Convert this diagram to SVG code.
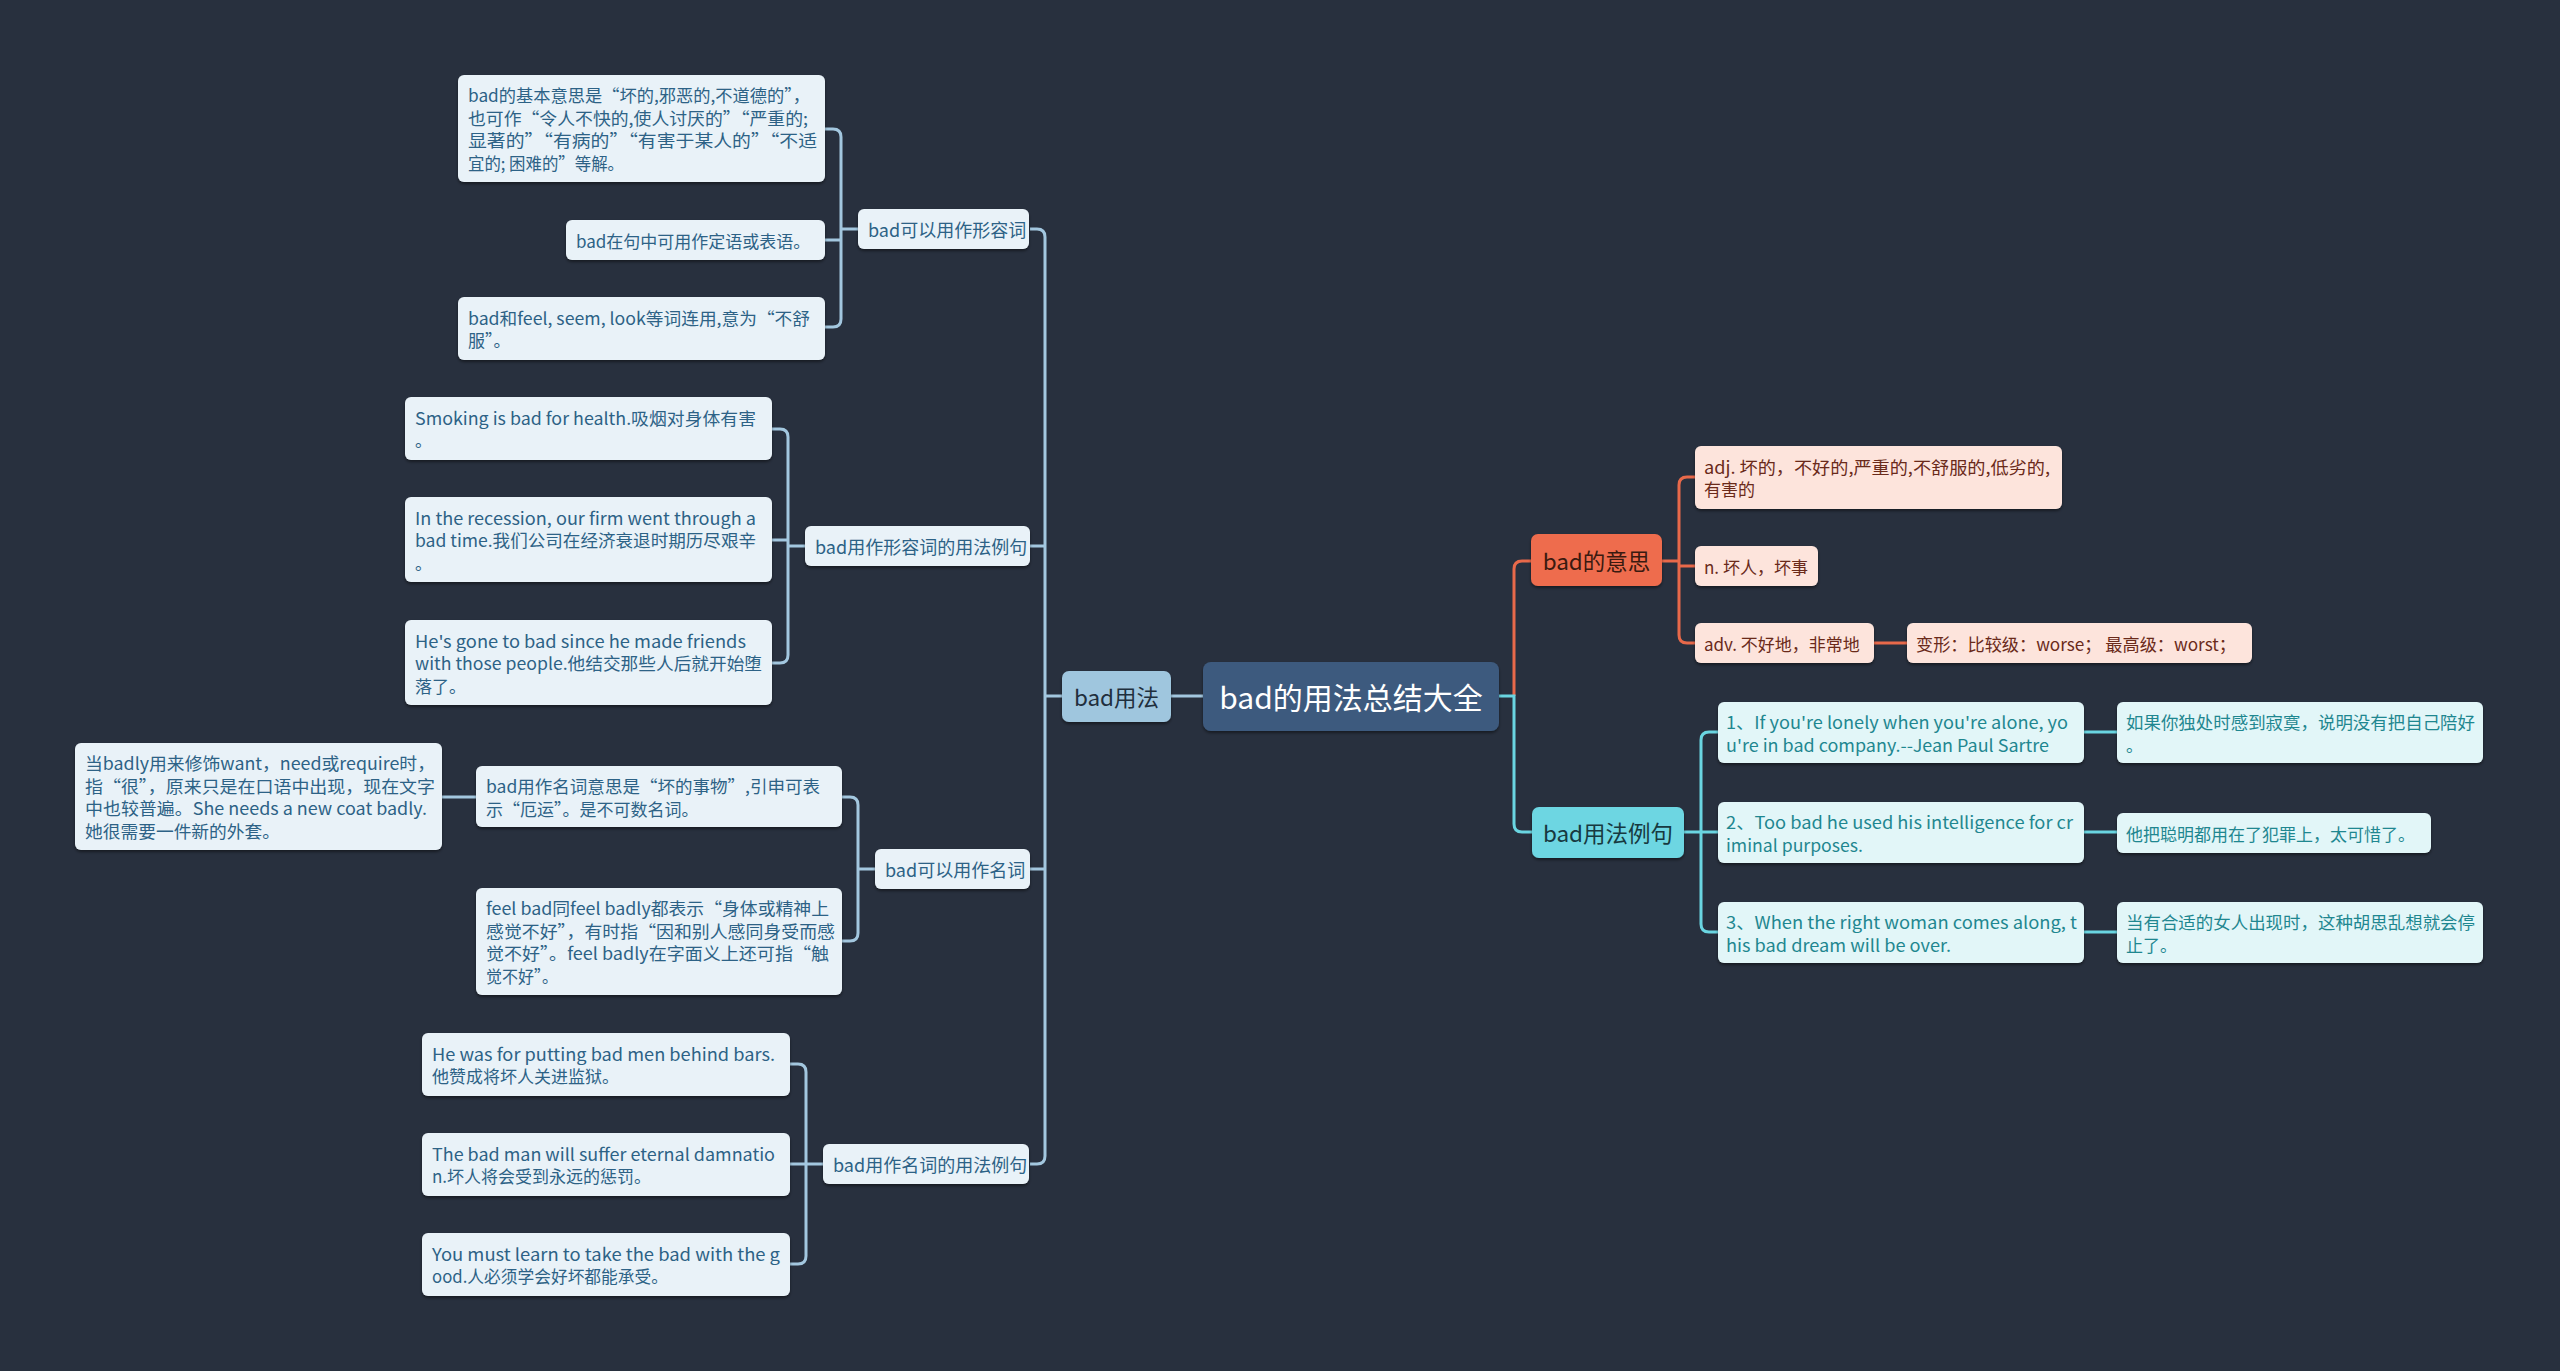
<svg xmlns="http://www.w3.org/2000/svg" width="2560" height="1371" viewBox="0 0 2560 1371">
<defs>
<filter id="sh" x="-5%" y="-10%" width="110%" height="130%"><feDropShadow dx="0" dy="2" stdDeviation="1.5" flood-color="#000" flood-opacity="0.45"/></filter>
<style>
text{font-family:"Noto Sans CJK SC","Noto Sans",sans-serif;dominant-baseline:central}
.cl{fill:none;stroke:#a3c7df;stroke-width:3}
.co{fill:none;stroke:#e8694a;stroke-width:3}
.cc{fill:none;stroke:#6ad5e1;stroke-width:3}
.nL rect{fill:#e9f2f8;filter:url(#sh)}
.nL text{fill:#2d6286;font-size:17px}
.nP rect{fill:#e9f2f8;filter:url(#sh)}
.nP text{fill:#2d6286;font-size:18px}
.n1 rect{fill:#9fc6de;filter:url(#sh)}
.n1 text{fill:#1f2f3d;font-size:22.5px}
.root rect{fill:#3e5a7e;filter:url(#sh)}
.root text{fill:#ffffff;font-size:30px}
.o1 rect{fill:#ee6c4d;filter:url(#sh)}
.o1 text{fill:#3a1a10;font-size:22.5px}
.oL rect{fill:#fde4dc;filter:url(#sh)}
.oL text{fill:#6a2a1a;font-size:17px}
.c1 rect{fill:#6dd6e2;filter:url(#sh)}
.c1 text{fill:#173940;font-size:22.5px}
.cL rect{fill:#e2f6f8;filter:url(#sh)}
.cL text{fill:#1f8790;font-size:17px}
</style>
</defs>
<rect width="2560" height="1371" fill="#28303e"/>
<g id="connectors">
<path class="cl" d="M1203,696 H1171"/>
<path class="cl" d="M1062,696 H1045"/>
<path class="cl" d="M1030,229 H1037 Q1045,229 1045,237 V1156 Q1045,1164 1037,1164 H1030 M1030,546 H1045 M1030,869 H1045"/>
<path class="cl" d="M858,229 H841 M825,129 H833 Q841,129 841,137 V319 Q841,327 833,327 H825 M825,240 H841"/>
<path class="cl" d="M805,546 H788 M772,429 H780 Q788,429 788,437 V655 Q788,663 780,663 H772 M772,540 H788"/>
<path class="cl" d="M875,869 H858 M842,797 H850 Q858,797 858,805 V933 Q858,941 850,941 H842"/>
<path class="cl" d="M476,797 H442"/>
<path class="cl" d="M823,1164 H806 M790,1064 H798 Q806,1064 806,1072 V1256 Q806,1264 798,1264 H790 M790,1164 H806"/>
<path class="co" d="M1514,696 V569 Q1514,561 1522,561 H1531"/>
<path class="co" d="M1662,561 H1679 M1695,477 H1687 Q1679,477 1679,485 V635 Q1679,643 1687,643 H1695 M1679,566 H1695"/>
<path class="co" d="M1874,643 H1907"/>
<path class="cc" d="M1499,696 H1514 V824 Q1514,832 1522,832 H1532"/>
<path class="cc" d="M1684,832 H1701 M1718,732 H1709 Q1701,732 1701,740 V924 Q1701,932 1709,932 H1718 M1701,832 H1718"/>
<path class="cc" d="M2084,732 H2117 M2084,832 H2117 M2084,932 H2117"/>
</g>
<g id="root" class="root"><rect x="1203" y="662" width="296" height="69" rx="8"/><text x="1351" y="696" text-anchor="middle">bad的用法总结大全</text></g>
<g id="usage" class="n1"><rect x="1062" y="671" width="109" height="51" rx="7"/><text x="1116.5" y="696" text-anchor="middle">bad用法</text></g>
<g id="p1" class="nP"><rect x="858" y="209" width="171" height="40" rx="6"/><text x="868" y="229">bad可以用作形容词</text></g>
<g id="p2" class="nP"><rect x="805" y="526" width="225" height="40" rx="6"/><text x="815" y="546">bad用作形容词的用法例句</text></g>
<g id="p3" class="nP"><rect x="875" y="849" width="155" height="40" rx="6"/><text x="885" y="869">bad可以用作名词</text></g>
<g id="p4" class="nP"><rect x="823" y="1144" width="206" height="40" rx="6"/><text x="833" y="1164">bad用作名词的用法例句</text></g>
<g id="a1" class="nL"><rect x="458" y="75" width="367" height="107" rx="6"/><text x="468" y="94.5" textLength="342" lengthAdjust="spacingAndGlyphs">bad的基本意思是“坏的,邪恶的,不道德的”，</text><text x="468" y="117.2" textLength="340" lengthAdjust="spacingAndGlyphs">也可作“令人不快的,使人讨厌的”“严重的;</text><text x="468" y="139.9" textLength="349" lengthAdjust="spacingAndGlyphs">显著的”“有病的”“有害于某人的”“不适</text><text x="468" y="162.6" textLength="156" lengthAdjust="spacingAndGlyphs">宜的; 困难的”等解。</text></g>
<g id="a2" class="nL"><rect x="566" y="220" width="259" height="40" rx="6"/><text x="576" y="240">bad在句中可用作定语或表语。</text></g>
<g id="a3" class="nL"><rect x="458" y="297" width="367" height="63" rx="6"/><text x="468" y="317" textLength="342" lengthAdjust="spacingAndGlyphs">bad和feel, seem, look等词连用,意为“不舒</text><text x="468" y="339.7">服”。</text></g>
<g id="b1" class="nL"><rect x="405" y="397" width="367" height="63" rx="6"/><text x="415" y="417" textLength="341" lengthAdjust="spacingAndGlyphs">Smoking is bad for health.吸烟对身体有害</text><text x="415" y="439.7">。</text></g>
<g id="b2" class="nL"><rect x="405" y="497" width="367" height="85" rx="6"/><text x="415" y="517" textLength="341" lengthAdjust="spacingAndGlyphs">In the recession, our firm went through a</text><text x="415" y="539.7" textLength="341" lengthAdjust="spacingAndGlyphs">bad time.我们公司在经济衰退时期历尽艰辛</text><text x="415" y="562.4">。</text></g>
<g id="b3" class="nL"><rect x="405" y="620" width="367" height="85" rx="6"/><text x="415" y="640" textLength="331" lengthAdjust="spacingAndGlyphs">He's gone to bad since he made friends</text><text x="415" y="662.7" textLength="347" lengthAdjust="spacingAndGlyphs">with those people.他结交那些人后就开始堕</text><text x="415" y="685.4">落了。</text></g>
<g id="c0" class="nL"><rect x="75" y="743" width="367" height="107" rx="6"/><text x="85" y="762.5" textLength="350" lengthAdjust="spacingAndGlyphs">当badly用来修饰want，need或require时，</text><text x="85" y="785.2" textLength="350" lengthAdjust="spacingAndGlyphs">指“很”，原来只是在口语中出现，现在文字</text><text x="85" y="807.9" textLength="342" lengthAdjust="spacingAndGlyphs">中也较普遍。She needs a new coat badly.</text><text x="85" y="830.6" textLength="195" lengthAdjust="spacingAndGlyphs">她很需要一件新的外套。</text></g>
<g id="c1" class="nL"><rect x="476" y="766" width="366" height="61" rx="6"/><text x="486" y="785.5" textLength="334" lengthAdjust="spacingAndGlyphs">bad用作名词意思是“坏的事物”,引申可表</text><text x="486" y="808.2">示“厄运”。是不可数名词。</text></g>
<g id="c2" class="nL"><rect x="476" y="888" width="366" height="107" rx="6"/><text x="486" y="907.5" textLength="343" lengthAdjust="spacingAndGlyphs">feel bad同feel badly都表示“身体或精神上</text><text x="486" y="930.2" textLength="349" lengthAdjust="spacingAndGlyphs">感觉不好”，有时指“因和别人感同身受而感</text><text x="486" y="952.9" textLength="343" lengthAdjust="spacingAndGlyphs">觉不好”。feel badly在字面义上还可指“触</text><text x="486" y="975.6" textLength="72" lengthAdjust="spacingAndGlyphs">觉不好”。</text></g>
<g id="d1" class="nL"><rect x="422" y="1033" width="368" height="63" rx="6"/><text x="432" y="1053" textLength="343" lengthAdjust="spacingAndGlyphs">He was for putting bad men behind bars.</text><text x="432" y="1075.7">他赞成将坏人关进监狱。</text></g>
<g id="d2" class="nL"><rect x="422" y="1133" width="368" height="63" rx="6"/><text x="432" y="1153" textLength="343" lengthAdjust="spacingAndGlyphs">The bad man will suffer eternal damnatio</text><text x="432" y="1175.7">n.坏人将会受到永远的惩罚。</text></g>
<g id="d3" class="nL"><rect x="422" y="1233" width="368" height="63" rx="6"/><text x="432" y="1253" textLength="348" lengthAdjust="spacingAndGlyphs">You must learn to take the bad with the g</text><text x="432" y="1275.7" textLength="236" lengthAdjust="spacingAndGlyphs">ood.人必须学会好坏都能承受。</text></g>
<g id="meaning" class="o1"><rect x="1531" y="534" width="131" height="52" rx="7"/><text x="1596.5" y="560" text-anchor="middle">bad的意思</text></g>
<g id="e1" class="oL"><rect x="1695" y="446" width="367" height="63" rx="6"/><text x="1704" y="466" textLength="346" lengthAdjust="spacingAndGlyphs">adj. 坏的，不好的,严重的,不舒服的,低劣的,</text><text x="1704" y="488.7">有害的</text></g>
<g id="e2" class="oL"><rect x="1695" y="546" width="123" height="40" rx="6"/><text x="1704" y="566">n. 坏人，坏事</text></g>
<g id="e3" class="oL"><rect x="1695" y="623" width="179" height="40" rx="6"/><text x="1704" y="643">adv. 不好地，非常地</text></g>
<g id="e4" class="oL"><rect x="1907" y="623" width="345" height="40" rx="6"/><text x="1916" y="643" textLength="320" lengthAdjust="spacingAndGlyphs">变形：比较级：worse；  最高级：worst；</text></g>
<g id="examples" class="c1"><rect x="1532" y="807" width="152" height="51" rx="7"/><text x="1608" y="832" text-anchor="middle">bad用法例句</text></g>
<g id="f1" class="cL"><rect x="1718" y="702" width="366" height="61" rx="6"/><text x="1726" y="721.5" textLength="342" lengthAdjust="spacingAndGlyphs">1、If you're lonely when you're alone, yo</text><text x="1726" y="744.2" textLength="323" lengthAdjust="spacingAndGlyphs">u're in bad company.--Jean Paul Sartre</text></g>
<g id="f2" class="cL"><rect x="1718" y="802" width="366" height="61" rx="6"/><text x="1726" y="821.5" textLength="347" lengthAdjust="spacingAndGlyphs">2、Too bad he used his intelligence for cr</text><text x="1726" y="844.2" textLength="137" lengthAdjust="spacingAndGlyphs">iminal purposes.</text></g>
<g id="f3" class="cL"><rect x="1718" y="902" width="366" height="61" rx="6"/><text x="1726" y="921.5" textLength="351" lengthAdjust="spacingAndGlyphs">3、When the right woman comes along, t</text><text x="1726" y="944.2" textLength="225" lengthAdjust="spacingAndGlyphs">his bad dream will be over.</text></g>
<g id="g1" class="cL"><rect x="2117" y="702" width="366" height="61" rx="6"/><text x="2126" y="721.5" textLength="349" lengthAdjust="spacingAndGlyphs">如果你独处时感到寂寞，说明没有把自己陪好</text><text x="2126" y="744.2">。</text></g>
<g id="g2" class="cL"><rect x="2117" y="813" width="314" height="40" rx="6"/><text x="2126" y="833">他把聪明都用在了犯罪上，太可惜了。</text></g>
<g id="g3" class="cL"><rect x="2117" y="902" width="366" height="61" rx="6"/><text x="2126" y="921.5" textLength="349" lengthAdjust="spacingAndGlyphs">当有合适的女人出现时，这种胡思乱想就会停</text><text x="2126" y="944.2">止了。</text></g>
</svg>
